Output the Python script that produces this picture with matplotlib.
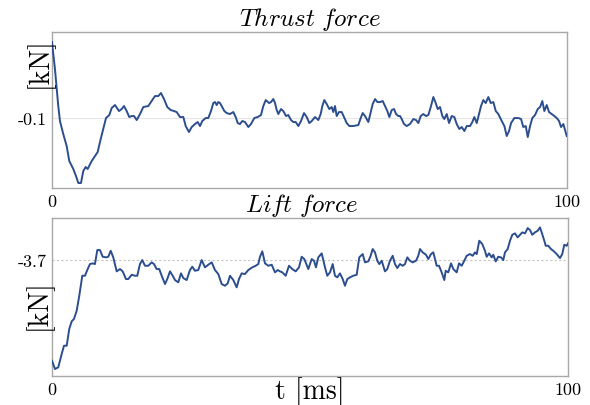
import matplotlib
matplotlib.use('Agg')
import matplotlib.pyplot as plt

# data (t in ms, forces in kN)
t_thrust = [0, 0.58, 1.22, 1.55, 2.19, 2.85, 3.36, 4.14, 4.66, 5.11, 5.63, 6.08, 6.54, 6.93, 7.71,
            8.35, 8.87, 9.46, 9.96, 10.49, 11.13, 11.59, 12.23, 13.01, 13.53, 13.98, 14.50, 15.01,
            15.48, 15.92, 16.45, 17.09, 17.73, 18.70, 19.36, 20.0, 20.64, 21.17, 21.75, 22.39,
            23.05, 23.69, 24.21, 24.85, 25.50, 25.96, 26.60, 27.13, 27.77, 28.29, 28.74, 29.18,
            29.84, 30.35, 30.87, 31.32, 31.65, 31.98, 32.29, 32.62, 32.95, 33.46, 33.92, 34.56,
            35.20, 35.67, 36.06, 36.50, 36.95, 37.48, 38.12, 38.64, 39.28, 39.94, 40.58, 41.03,
            41.50, 42.14, 42.52, 42.97, 43.30, 43.63, 43.94, 44.47, 44.91, 45.44, 45.88, 46.41,
            46.85, 47.32, 47.83, 48.35, 48.93, 49.46, 49.96, 50.43, 51.07, 51.71, 52.17, 52.49,
            52.87, 53.34, 53.84, 54.31, 54.62, 54.95, 55.28, 55.73, 56.25, 56.70, 57.22, 57.73,
            58.50, 59.48, 59.94, 60.33, 60.78, 61.42, 61.88, 62.27, 62.72, 63.17, 63.69, 64.21,
            64.66, 65.11, 65.50, 65.96, 66.41, 66.80, 67.24, 67.57, 67.90, 68.35, 68.87, 69.51,
            70.16, 70.68, 71.13, 71.59, 72.10, 72.62, 73.07, 73.59, 74.04, 74.50, 74.89, 75.34,
            75.79, 76.17, 76.64, 77.09, 77.61, 78.12, 78.58, 79.09, 79.55, 80.06, 80.52, 81.17,
            81.61, 82.0, 82.47, 82.91, 83.30, 83.75, 84.21, 84.72, 85.18, 85.69, 86.16, 86.66,
            87.32, 87.83, 88.29, 88.74, 89.13, 89.77, 90.54, 91.07, 91.51, 91.98, 92.37, 92.82,
            93.26, 93.79, 94.31, 94.76, 95.20, 95.59, 96.06, 96.50, 97.03, 97.53, 98.0, 98.45,
            98.83, 99.28, 99.61, 99.94]
thrust = [-0.024, -0.051, -0.088, -0.103, -0.116, -0.128, -0.143, -0.151, -0.158, -0.165, -0.165,
          -0.153, -0.149, -0.151, -0.143, -0.138, -0.134, -0.121, -0.111, -0.100, -0.097, -0.090,
          -0.087, -0.093, -0.091, -0.088, -0.093, -0.099, -0.098, -0.098, -0.102, -0.096, -0.089,
          -0.088, -0.083, -0.078, -0.078, -0.075, -0.081, -0.089, -0.092, -0.093, -0.094, -0.099,
          -0.099, -0.108, -0.114, -0.109, -0.106, -0.104, -0.108, -0.103, -0.100, -0.100, -0.093,
          -0.085, -0.084, -0.087, -0.084, -0.085, -0.088, -0.093, -0.095, -0.096, -0.094, -0.099,
          -0.105, -0.106, -0.103, -0.104, -0.109, -0.106, -0.100, -0.099, -0.097, -0.088, -0.082,
          -0.085, -0.084, -0.081, -0.085, -0.092, -0.096, -0.091, -0.093, -0.098, -0.097, -0.102,
          -0.104, -0.104, -0.108, -0.103, -0.095, -0.099, -0.105, -0.103, -0.099, -0.102, -0.096,
          -0.088, -0.082, -0.086, -0.091, -0.089, -0.094, -0.088, -0.098, -0.094, -0.094, -0.099,
          -0.105, -0.108, -0.108, -0.107, -0.100, -0.095, -0.098, -0.104, -0.094, -0.086, -0.081,
          -0.084, -0.084, -0.083, -0.088, -0.093, -0.099, -0.092, -0.091, -0.096, -0.098, -0.098,
          -0.101, -0.106, -0.108, -0.106, -0.101, -0.102, -0.105, -0.098, -0.096, -0.098, -0.097,
          -0.088, -0.079, -0.085, -0.091, -0.089, -0.098, -0.101, -0.096, -0.105, -0.098, -0.099,
          -0.106, -0.111, -0.109, -0.113, -0.108, -0.108, -0.104, -0.099, -0.105, -0.096, -0.088,
          -0.082, -0.085, -0.079, -0.085, -0.084, -0.093, -0.096, -0.103, -0.108, -0.118, -0.113,
          -0.105, -0.100, -0.100, -0.101, -0.109, -0.108, -0.119, -0.108, -0.100, -0.097, -0.091,
          -0.089, -0.083, -0.093, -0.087, -0.094, -0.096, -0.098, -0.100, -0.103, -0.109, -0.106,
          -0.112, -0.118]

t_lift = [0, 0.58, 1.22, 1.88, 2.33, 2.85, 3.35, 3.82, 4.26, 4.79, 5.29, 5.87, 6.40, 6.84, 7.36,
          7.89, 8.33, 8.78, 9.30, 9.83, 10.47, 10.91, 11.38, 11.88, 12.54, 13.18, 13.70, 14.34,
          14.79, 15.45, 16.09, 16.53, 17.05, 17.50, 18.02, 18.66, 19.32, 19.77, 20.29, 20.79,
          21.26, 21.90, 22.34, 22.87, 23.39, 23.84, 24.48, 25.0, 25.45, 26.10, 26.74, 27.19,
          27.71, 28.35, 29.01, 29.65, 30.29, 30.95, 31.59, 32.23, 32.89, 33.53, 34.05, 34.50,
          35.14, 35.79, 36.24, 36.76, 37.40, 38.04, 38.82, 39.48, 39.98, 40.31, 40.76, 41.28,
          41.92, 42.58, 43.22, 43.74, 44.19, 44.63, 45.29, 45.93, 46.57, 47.23, 47.87, 48.39,
          48.90, 49.67, 50.33, 50.78, 51.16, 51.61, 52.27, 52.91, 53.35, 53.88, 54.40, 54.84,
          55.29, 55.81, 56.34, 56.78, 57.23, 57.75, 58.39, 59.05, 59.55, 60.21, 60.66, 61.30,
          61.76, 62.15, 62.60, 63.04, 63.43, 63.90, 64.53, 64.98, 65.50, 66.03, 66.47, 66.92,
          67.44, 67.97, 68.41, 68.86, 69.38, 69.90, 70.54, 70.99, 71.32, 71.84, 72.48, 72.93,
          73.45, 73.90, 74.55, 75.0, 75.52, 76.03, 76.30, 76.80, 77.33, 77.77, 78.43, 78.88,
          79.40, 79.90, 80.37, 81.01, 81.53, 81.98, 82.31, 82.81, 83.39, 83.91, 84.24, 84.69,
          85.21, 85.52, 85.99, 86.49, 87.02, 87.46, 87.79, 88.31, 88.76, 89.21, 89.73, 90.25,
          90.70, 91.14, 91.67, 92.19, 92.64, 93.08, 93.60, 94.13, 94.57, 94.90, 95.41, 95.68,
          96.18, 96.71, 97.15, 97.81, 98.45, 98.89, 99.28, 99.75, 100.0]
lift = [-4.710, -4.793, -4.776, -4.643, -4.560, -4.560, -4.393, -4.316, -4.293, -4.210, -4.060,
        -3.860, -3.860, -3.803, -3.743, -3.736, -3.743, -3.603, -3.603, -3.670, -3.676, -3.670,
        -3.610, -3.676, -3.816, -3.793, -3.816, -3.893, -3.893, -3.850, -3.860, -3.860, -3.743,
        -3.703, -3.760, -3.760, -3.726, -3.743, -3.793, -3.793, -3.860, -3.943, -3.893, -3.816,
        -3.860, -3.903, -3.926, -3.836, -3.883, -3.903, -3.803, -3.770, -3.810, -3.803, -3.703,
        -3.776, -3.750, -3.726, -3.803, -3.843, -3.943, -3.960, -3.936, -3.860, -3.903, -3.976,
        -3.893, -3.836, -3.843, -3.803, -3.776, -3.760, -3.743, -3.670, -3.616, -3.736, -3.760,
        -3.750, -3.826, -3.803, -3.816, -3.826, -3.860, -3.760, -3.793, -3.816, -3.776, -3.670,
        -3.693, -3.793, -3.693, -3.710, -3.776, -3.676, -3.636, -3.776, -3.860, -3.826, -3.743,
        -3.860, -3.876, -3.836, -3.893, -3.960, -3.893, -3.876, -3.860, -3.850, -3.676, -3.643,
        -3.726, -3.716, -3.660, -3.593, -3.626, -3.710, -3.743, -3.710, -3.816, -3.793, -3.710,
        -3.660, -3.743, -3.783, -3.743, -3.760, -3.743, -3.676, -3.710, -3.726, -3.710, -3.660,
        -3.593, -3.626, -3.650, -3.693, -3.643, -3.626, -3.760, -3.760, -3.826, -3.903, -3.810,
        -3.826, -3.736, -3.793, -3.826, -3.736, -3.760, -3.710, -3.660, -3.643, -3.660, -3.626,
        -3.643, -3.510, -3.543, -3.610, -3.670, -3.636, -3.676, -3.650, -3.716, -3.670, -3.676,
        -3.703, -3.626, -3.593, -3.510, -3.450, -3.436, -3.476, -3.450, -3.426, -3.436, -3.383,
        -3.403, -3.450, -3.426, -3.410, -3.376, -3.426, -3.510, -3.560, -3.560, -3.593, -3.610,
        -3.643, -3.683, -3.643, -3.550, -3.560, -3.536]

x_ticks = [0, 100]
thrust_ref = -0.1
lift_ref = -3.7

plt.rcParams['mathtext.fontset'] = 'cm'
plt.rcParams['font.family'] = 'cmr10'
plt.rcParams['axes.unicode_minus'] = False

line_color = '#2d4e8e'
spine_color = '#a8a8a8'

fig = plt.figure(figsize=(5.9, 4.06), dpi=100)
ax1 = fig.add_axes([0.0881, 0.5345, 0.873, 0.384])
ax2 = fig.add_axes([0.0881, 0.0714, 0.8746, 0.389])


def style(ax, ref, ref_label, ylim, ref_style, ref_color):
    ax.axhline(ref, color=ref_color, lw=0.8, ls=ref_style, zorder=1)
    ax.set_xlim(0, 100)
    ax.set_ylim(*ylim)
    ax.set_xticks(x_ticks)
    ax.set_xticklabels([str(v) for v in x_ticks], fontsize=13)
    ax.set_yticks([ref])
    ax.set_yticklabels([ref_label], fontsize=13)
    ax.tick_params(length=0, pad=4)
    for s in ax.spines.values():
        s.set_color(spine_color)
        s.set_linewidth(1.0)


ax1.plot(t_thrust, thrust, color=line_color, lw=1.4, zorder=3)
style(ax1, thrust_ref, '-0.1', (-0.17, -0.014), '-', '#e6e6e6')
ax1.set_title(r'$Thrust\ force$', fontsize=18, pad=3)
ax1.text(-0.025, 0.81, '[kN]', rotation=90, fontsize=20, transform=ax1.transAxes,
         ha='center', va='center')

ax2.plot(t_lift, lift, color=line_color, lw=1.4, zorder=3)
style(ax2, lift_ref, '-3.7', (-4.863, -3.283), (0, (2, 2)), '#c4c4c4')
ax2.set_title(r'$Lift\ force$', fontsize=18, pad=1, x=0.483)
ax2.text(-0.027, 0.456, '[kN]', rotation=90, fontsize=20, transform=ax2.transAxes,
         ha='center', va='center')
ax2.text(0.5, -0.095, 't [ms]', fontsize=20, transform=ax2.transAxes,
         ha='center', va='center')

fig.savefig('out.png', dpi=100)
